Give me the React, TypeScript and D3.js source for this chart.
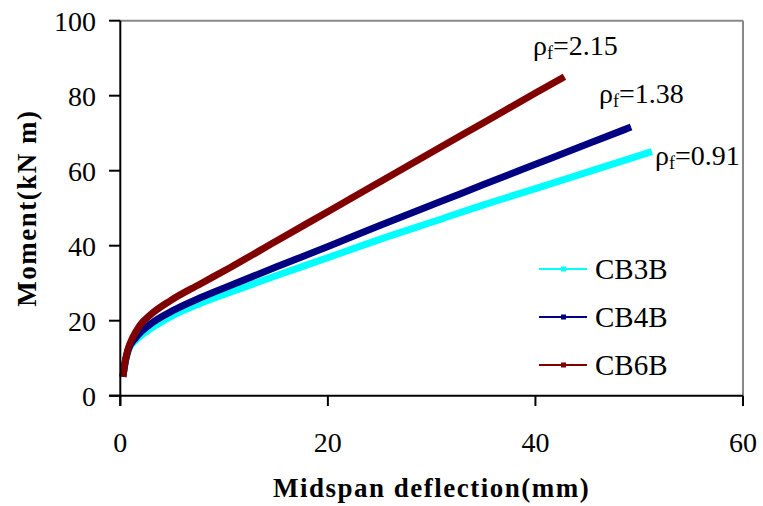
import React from "react";
import * as d3 from "d3";

const SERIES_NAMES = ["CB3B", "CB4B", "CB6B"];
const SERIES_COLORS = ["#00FFFF", "#000080", "#800000"];

const CB3B_X = [0.3, 0.5, 0.8, 1.5, 3, 5, 7.7, 10.6, 15, 20.2, 25, 30.8, 35, 40, 45, 50.9];
const CB3B_Y = [6, 9, 12.3, 14.8, 18, 21.3, 24.6, 27.6, 32, 37, 41.7, 47, 50.9, 55.2, 59.6, 64.8];

const CB4B_X = [0.3, 0.5, 0.8, 1.5, 3, 5, 7.7, 10.6, 15, 20.2, 25, 30.8, 35, 40, 45, 48.9];
const CB4B_Y = [6, 9.5, 12.5, 15.5, 19.3, 22.6, 26.1, 29.4, 34.3, 40, 45.4, 51.7, 56.3, 61.7, 67.1, 71.3];

const CB6B_X = [0.3, 0.4, 0.7, 1.2, 1.9, 3, 4.8, 7.7, 10.6, 15, 20.2, 25, 30.8, 35, 40, 42.5];
const CB6B_Y = [6, 8, 12, 15.5, 18.8, 21.8, 25.3, 29.8, 34.2, 41.2, 49.4, 57, 66.2, 72.8, 80.7, 84.6];

const X_TICKS = [0, 20, 40, 60];
const Y_TICKS = [0, 20, 40, 60, 80, 100];

const ANNOT_LABELS = ["=0.91", "=1.38", "=2.15"];
const ANNOT_POS = [
  { x: 655, y: 165 },
  { x: 599, y: 103 },
  { x: 533, y: 55 },
];

const FONT = "'Liberation Serif', 'Times New Roman', serif";

export default function App() {
  const x = d3.scaleLinear().domain([0, 60]).range([120.3, 743]);
  const y = d3.scaleLinear().domain([0, 100]).range([395.7, 20.7]);
  const xs = [CB3B_X, CB4B_X, CB6B_X];
  const ys = [CB3B_Y, CB4B_Y, CB6B_Y];
  const line = d3
    .line<[number, number]>()
    .x((d) => x(d[0]))
    .y((d) => y(d[1]))
    .curve(d3.curveMonotoneX);

  const x0 = x(0);
  const x1 = x(60);
  const y0 = y(0);
  const y1 = y(100);

  const legendY = [269, 317, 365];

  return (
    <svg
      width={763}
      height={506}
      style={{ position: "absolute", left: 0, top: 0, background: "#fff" }}
      fontFamily={FONT}
    >
      <rect x={0} y={0} width={763} height={506} fill="#fff" />
      {/* frame */}
      <line x1={x0} x2={x1} y1={y1} y2={y1} stroke="#888" strokeWidth={2} />
      <line x1={x1} x2={x1} y1={y1} y2={y0} stroke="#888" strokeWidth={2} />

      {/* series */}
      {xs.map((sx, i) => {
        const pts = sx.map((v, j) => [v, ys[i][j]] as [number, number]);
        return (
          <path
            key={SERIES_NAMES[i]}
            d={line(pts) || ""}
            fill="none"
            stroke={SERIES_COLORS[i]}
            strokeWidth={7}
            strokeLinecap="square"
            strokeLinejoin="round"
          />
        );
      })}

      {/* axes */}
      <line x1={109} x2={x1} y1={y0} y2={y0} stroke="#000" strokeWidth={2} />
      <line x1={x0} x2={x0} y1={y1} y2={406} stroke="#000" strokeWidth={2} />
      {Y_TICKS.map((t) => (
        <g key={"y" + t}>
          <line x1={109} x2={x0} y1={y(t)} y2={y(t)} stroke="#000" strokeWidth={2} />
          <text x={96} y={y(t) + 10} fontSize={28} textAnchor="end" fill="#000">
            {t}
          </text>
        </g>
      ))}
      {X_TICKS.map((t) => (
        <g key={"x" + t}>
          <line x1={x(t)} x2={x(t)} y1={y0} y2={406} stroke="#000" strokeWidth={2} />
          <text x={x(t)} y={452} fontSize={28} textAnchor="middle" fill="#000">
            {t}
          </text>
        </g>
      ))}

      {/* axis titles */}
      <text
        x={(x0 + x1) / 2}
        y={497}
        fontSize={27}
        fontWeight="bold"
        textAnchor="middle"
        letterSpacing={1.5}
      >
        Midspan deflection(mm)
      </text>
      <text
        transform={`translate(36, ${(y0 + y1) / 2}) rotate(-90)`}
        fontSize={27}
        fontWeight="bold"
        textAnchor="middle"
        letterSpacing={1.5}
      >
        Moment(kN m)
      </text>

      {/* annotations */}
      {ANNOT_LABELS.map((lab, i) => (
        <text key={lab} x={ANNOT_POS[i].x} y={ANNOT_POS[i].y} fontSize={28} fill="#000">
          ρ
          <tspan fontSize={18} dy={4}>
            f
          </tspan>
          <tspan dy={-4}>{lab}</tspan>
        </text>
      ))}

      {/* legend */}
      {SERIES_NAMES.map((n, i) => (
        <g key={"lg" + n}>
          <line x1={539} x2={587} y1={legendY[i]} y2={legendY[i]} stroke={SERIES_COLORS[i]} strokeWidth={2} />
          <rect x={561} y={legendY[i] - 2.5} width={5} height={5} fill={SERIES_COLORS[i]} />
          <text x={595} y={legendY[i] + 10} fontSize={29} fill="#000">
            {n}
          </text>
        </g>
      ))}
    </svg>
  );
}
